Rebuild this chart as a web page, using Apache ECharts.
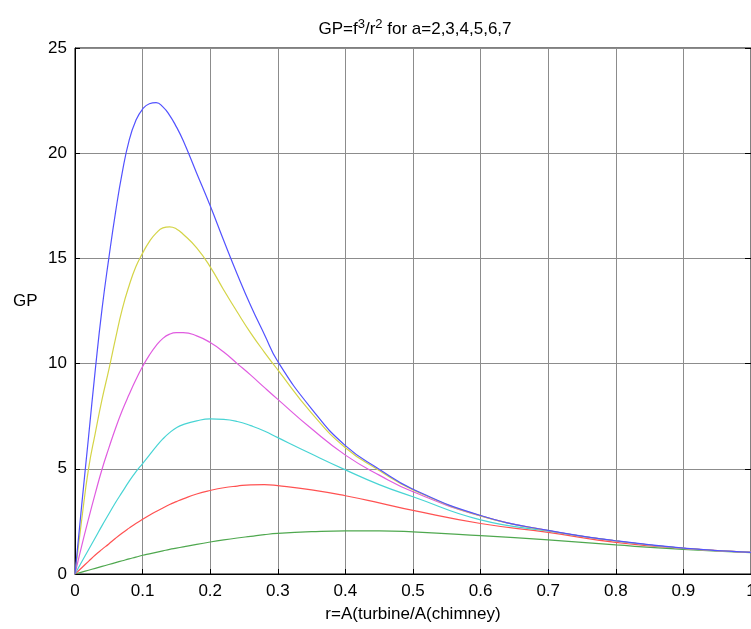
<!DOCTYPE html>
<html>
<head>
<meta charset="utf-8">
<script src="https://cdn.jsdelivr.net/npm/echarts@6/dist/echarts.min.js"></script>
<style>
  * { margin: 0; padding: 0; }
  body { background: #fff; }
</style>
</head>
<body>
<div id="mychart" style="width: 751px; height: 629px;"></div>
<script>
// r = A(turbine)/A(chimney)
const rValues = [0, 0.01, 0.02, 0.03, 0.04, 0.05, 0.06, 0.07, 0.08, 0.09, 0.1, 0.11, 0.12, 0.13, 0.14, 0.15, 0.16, 0.18, 0.2, 0.22, 0.24, 0.26, 0.28, 0.3, 0.35, 0.4, 0.45, 0.5, 0.6, 0.7, 0.8, 0.9, 1.0]

const gpA2 = [0, 0.09, 0.18, 0.27, 0.36, 0.45, 0.54, 0.63, 0.72, 0.8, 0.89, 0.96, 1.03, 1.1, 1.17, 1.23, 1.29, 1.41, 1.52, 1.62, 1.71, 1.79, 1.87, 1.93, 2.01, 2.05, 2.05, 2.0, 1.82, 1.62, 1.38, 1.17, 1.02]
const gpA3 = [0, 0.3, 0.6, 0.9, 1.17, 1.43, 1.7, 1.95, 2.18, 2.4, 2.6, 2.79, 2.97, 3.14, 3.3, 3.44, 3.57, 3.8, 3.97, 4.1, 4.18, 4.24, 4.25, 4.2, 4.0, 3.72, 3.38, 3.02, 2.4, 1.98, 1.5, 1.22, 1.03]
const gpA4 = [0, 0.58, 1.15, 1.72, 2.3, 2.85, 3.4, 3.9, 4.4, 4.85, 5.25, 5.65, 6.05, 6.42, 6.72, 6.95, 7.1, 7.28, 7.37, 7.35, 7.25, 7.05, 6.8, 6.48, 5.7, 4.95, 4.25, 3.67, 2.57, 2.04, 1.57, 1.22, 1.03]
const gpA5 = [0, 1.35, 2.62, 3.83, 4.98, 5.98, 6.93, 7.78, 8.53, 9.23, 9.86, 10.4, 10.85, 11.2, 11.4, 11.47, 11.47, 11.32, 11.0, 10.55, 10.0, 9.45, 8.87, 8.3, 6.9, 5.65, 4.7, 3.91, 2.76, 2.06, 1.57, 1.22, 1.03]
const gpA6 = [0, 2.6, 5.0, 6.7, 8.3, 9.7, 11.2, 12.6, 13.7, 14.6, 15.25, 15.8, 16.2, 16.45, 16.5, 16.4, 16.15, 15.5, 14.6, 13.5, 12.45, 11.45, 10.55, 9.7, 7.65, 6.0, 4.92, 4.0, 2.76, 2.06, 1.57, 1.22, 1.03]
const gpA7 = [0, 3.3, 6.5, 9.7, 12.6, 15.0, 17.2, 19.1, 20.6, 21.55, 22.1, 22.35, 22.4, 22.2, 21.8, 21.25, 20.6, 19.05, 17.5, 15.85, 14.25, 12.75, 11.4, 10.1, 7.85, 6.1, 4.98, 4.03, 2.78, 2.07, 1.58, 1.23, 1.03]

const seriesNames = ['a=2', 'a=3', 'a=4', 'a=5', 'a=6', 'a=7']
const seriesColors = ['#4fa84f', '#ff5252', '#48d4d4', '#e05ce0', '#d4d447', '#5252ff']
const seriesData = [gpA2, gpA3, gpA4, gpA5, gpA6, gpA7]

function initChart() {
    var chart = echarts.init(document.getElementById("mychart"));
    const font = 'Liberation Sans, Arial, sans-serif'
    const option = {
        backgroundColor: '#fff',
        animation: false,
        title: {
            text: 'GP=f{sup|3}/r{sup|2} for a=2,3,4,5,6,7',
            left: 410,
            top: 13,
            textAlign: 'center',
            textStyle: {
                fontFamily: font,
                fontSize: 17,
                fontWeight: 'normal',
                color: '#000',
                rich: {
                    sup: { fontSize: 13, verticalAlign: 'top', padding: [0, 0, 9, 0], fontFamily: font, color: '#000' }
                }
            }
        },
        graphic: [
            {
                type: 'text',
                left: 13,
                top: 293,
                style: { text: 'GP', fontFamily: font, fontSize: 17, fill: '#000' }
            }
        ],
        grid: {
            left: 75,
            right: 0,
            top: 48,
            bottom: 55,
            outerBoundsMode: 'none',
            containLabel: false,
            show: true,
            borderColor: '#000',
            borderWidth: 1
        },
        xAxis: {
            type: 'value',
            min: 0,
            max: 1,
            interval: 0.1,
            name: 'r=A(turbine/A(chimney)',
            nameLocation: 'middle',
            nameGap: 32,
            nameTextStyle: { fontFamily: font, fontSize: 17, color: '#000' },
            axisLine: { lineStyle: { color: '#000', width: 1 } },
            axisTick: { inside: true, length: 5, lineStyle: { color: '#000' } },
            axisLabel: { fontFamily: font, fontSize: 17, color: '#000', margin: 9 },
            splitLine: { show: true, lineStyle: { color: '#8c8c8c', width: 1 } }
        },
        yAxis: [
            {
                type: 'value',
                min: 0,
                max: 25,
                interval: 5,
                axisLine: { show: true, lineStyle: { color: '#000', width: 1 } },
                axisTick: { show: true, inside: true, length: 5, lineStyle: { color: '#000' } },
                axisLabel: { fontFamily: font, fontSize: 17, color: '#000', margin: 8 },
                splitLine: { show: true, lineStyle: { color: '#8c8c8c', width: 1 } }
            },
            {
                type: 'value',
                position: 'right',
                min: 0,
                max: 25,
                interval: 5,
                axisLine: { show: false },
                axisTick: { show: true, inside: true, length: 6, lineStyle: { color: '#000' } },
                axisLabel: { show: false },
                splitLine: { show: false }
            }
        ],
        series: seriesData.map((vals, i) => ({
            name: seriesNames[i],
            type: 'line',
            smooth: 0.5,
            showSymbol: false,
            symbol: 'none',
            lineStyle: { color: seriesColors[i], width: 1.2 },
            data: rValues.map((r, j) => [r, vals[j]])
        }))
    };
    chart.setOption(option);
    window.addEventListener("resize", function () {
        chart.resize();
    });
}

initChart();
</script>
</body>
</html>
